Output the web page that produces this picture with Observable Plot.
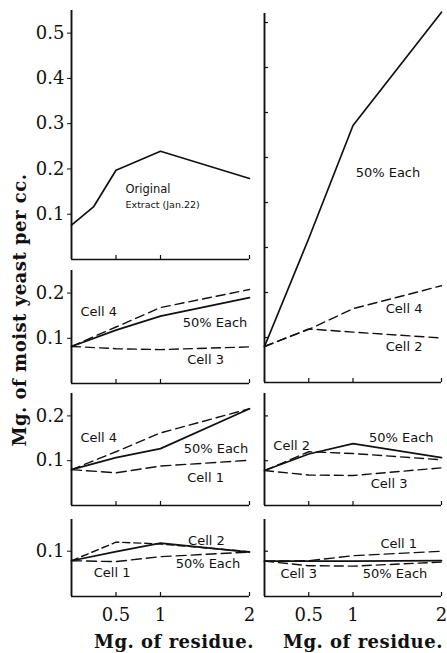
<!DOCTYPE html>
<html><head><meta charset="utf-8">
<script src="https://cdn.jsdelivr.net/npm/d3@7"></script>
<script src="https://cdn.jsdelivr.net/npm/@observablehq/plot@0.6"></script>
<style>
body{margin:0;background:#fff;}
#fig{position:relative;width:447px;height:653px;background:#fff;overflow:hidden;}
#fig svg{position:absolute;overflow:visible;background:transparent;}
.title{position:absolute;font-family:"DejaVu Serif",serif;font-weight:bold;font-size:18px;letter-spacing:0.5px;white-space:nowrap;color:#111;transform:translate(-50%,-50%);}
</style></head><body><div id="fig"></div>
<script>
// x values (mg of residue)
const doses = [0, 0.5, 1, 2];
const dosesOriginal = [0, 0.25, 0.5, 1, 2];
const xTickValues = [0.5, 1, 2];

// Left column
const originalExtract = [0.076, 0.117, 0.197, 0.239, 0.179];
const l2Cell4 = [0.082, 0.125, 0.168, 0.208];
const l2Each = [0.082, 0.118, 0.149, 0.19];
const l2Cell3 = [0.082, 0.077, 0.075, 0.081];
const l3Cell4 = [0.08, 0.12, 0.162, 0.216];
const l3Each = [0.08, 0.107, 0.127, 0.216];
const l3Cell1 = [0.08, 0.073, 0.088, 0.101];
const l4Cell2 = [0.079, 0.12, 0.116, 0.099];
const l4Each = [0.079, 0.099, 0.118, 0.098];
const l4Cell1 = [0.079, 0.077, 0.088, 0.098];

// Right column
const r1Each = [0.08, 0.32, 0.571, 0.823];
const r1Cell4 = [0.08, 0.118, 0.164, 0.215];
const r1Cell2 = [0.08, 0.119, 0.112, 0.099];
const r2Each = [0.078, 0.115, 0.138, 0.107];
const r2Cell2 = [0.078, 0.12, 0.116, 0.102];
const r2Cell3 = [0.078, 0.068, 0.067, 0.084];
const r3Each = [0.078, 0.078, 0.078, 0.079];
const r3Cell1 = [0.078, 0.079, 0.09, 0.10];
const r3Cell3 = [0.078, 0.068, 0.067, 0.076];

// y ticks
const yTicksL1 = [0.1, 0.2, 0.3, 0.4, 0.5];
const yTicks2 = [0.1, 0.2];
const yTicks1 = [0.1];
const yTicksR1 = [0.1, 0.2, 0.3, 0.4, 0.5, 0.6, 0.7, 0.8];

// labels (text, x in mg, y in value)
const l1Text = ["Original", "Extract (Jan.22)"];
const l1X = [0.607, 0.607];
const l1Y = [0.155, 0.121];
const l2Text = ["Cell 4", "50% Each", "Cell 3"];
const l2X = [0.10, 1.25, 1.30];
const l2Y = [0.159, 0.135, 0.053];
const l3Text = ["Cell 4", "50% Each", "Cell 1"];
const l3X = [0.10, 1.26, 1.30];
const l3Y = [0.152, 0.127, 0.0625];
const l4Text = ["Cell 2", "50% Each", "Cell 1"];
const l4X = [1.31, 1.17, 0.25];
const l4Y = [0.124, 0.073, 0.053];
const r1Text = ["50% Each", "Cell 4", "Cell 2"];
const r1X = [1.03, 1.37, 1.37];
const r1Y = [0.467, 0.164, 0.08];
const r2Text = ["Cell 2", "50% Each", "Cell 3"];
const r2X = [0.10, 1.18, 1.20];
const r2Y = [0.134, 0.152, 0.049];
const r3Text = ["Cell 1", "Cell 3", "50% Each"];
const r3X = [1.31, 0.18, 1.11];
const r3Y = [0.117, 0.051, 0.051];

const INK = "#111";
const fig = document.getElementById("fig");

function panel(cfg) {
  const mt = 12, mb = cfg.xAxis ? 40 : 6;
  const frameH = cfg.bottom - cfg.top;
  const unitY = cfg.yMax / frameH;   // data units per pixel
  const unitX = 2 / (cfg.width - cfg.mL - cfg.mR);
  const marks = [
    Plot.ruleX([0], {stroke: INK, strokeWidth: 1.9}),
    Plot.ruleY([0], {stroke: INK, strokeWidth: 1.7}),
    Plot.ruleX(xTickValues, {y1: 0, y2: 4 * unitY, stroke: INK, strokeWidth: 1.2})
  ];
  if (cfg.side === "left") {
    marks.push(Plot.axisY(cfg.yTicks, {anchor: "left", tickSize: 4, tickPadding: 3,
      tickFormat: d3.format(".1f"), fontSize: 18, fontFamily: "DejaVu Serif", color: INK, label: null}));
  } else {
    marks.push(Plot.ruleY(cfg.yTicks, {x1: 0, x2: 4 * unitX, stroke: INK, strokeWidth: 1.2}));
  }
  if (cfg.xAxis) {
    marks.push(Plot.axisX(xTickValues, {anchor: "bottom", tickSize: 0, tickPadding: 12,
      tickFormat: d => String(d), fontSize: 18, fontFamily: "DejaVu Serif", color: INK, label: null}));
  }
  for (const s of cfg.series) {
    marks.push(Plot.line(s.values, {x: s.xs || doses, y: d => d, stroke: INK,
      strokeWidth: s.dash ? 1.4 : 1.7, strokeDasharray: s.dash || null}));
  }
  marks.push(Plot.text(cfg.labelText, {x: cfg.labelX, y: cfg.labelY, text: d => d,
    textAnchor: "start", fontSize: cfg.labelSizes || 13, fontFamily: "DejaVu Sans", fill: INK}));
  const svg = Plot.plot({
    width: cfg.width, height: frameH + mt + mb,
    marginLeft: cfg.mL, marginRight: cfg.mR, marginTop: mt, marginBottom: mb,
    x: {domain: [0, 2], axis: null},
    y: {domain: [0, cfg.yMax], axis: null},
    style: {background: "transparent", overflow: "visible"},
    marks
  });
  svg.style.left = cfg.left + "px";
  svg.style.top = (cfg.top - mt) + "px";
  fig.appendChild(svg);
}

const L = {left: 0, width: 257, mL: 71, mR: 8, side: "left"};
const R = {left: 257, width: 190, mL: 7, mR: 6, side: "right"};

panel({...L, top: 10, bottom: 259, yMax: 0.55, yTicks: yTicksL1,
  series: [{values: originalExtract, xs: dosesOriginal}],
  labelText: l1Text, labelX: l1X, labelY: l1Y, labelSizes: [11.5, 9.5]});
panel({...L, top: 270, bottom: 383, yMax: 0.25, yTicks: yTicks2,
  series: [{values: l2Cell4, dash: "9,5"}, {values: l2Each}, {values: l2Cell3, dash: "9,5"}],
  labelText: l2Text, labelX: l2X, labelY: l2Y});
panel({...L, top: 393, bottom: 505, yMax: 0.25, yTicks: yTicks2,
  series: [{values: l3Cell4, dash: "9,5"}, {values: l3Each}, {values: l3Cell1, dash: "10,5"}],
  labelText: l3Text, labelX: l3X, labelY: l3Y});
panel({...L, top: 519, bottom: 596, yMax: 0.17, yTicks: yTicks1, xAxis: true,
  series: [{values: l4Cell2, dash: "7,4"}, {values: l4Each}, {values: l4Cell1, dash: "10,5"}],
  labelText: l4Text, labelX: l4X, labelY: l4Y});

panel({...R, top: 13, bottom: 382, yMax: 0.82, yTicks: yTicksR1,
  series: [{values: r1Each}, {values: r1Cell4, dash: "9,5"}, {values: r1Cell2, dash: "9,5"}],
  labelText: r1Text, labelX: r1X, labelY: r1Y});
panel({...R, top: 393, bottom: 505, yMax: 0.25, yTicks: yTicks2,
  series: [{values: r2Each}, {values: r2Cell2, dash: "9,5"}, {values: r2Cell3, dash: "9,5"}],
  labelText: r2Text, labelX: r2X, labelY: r2Y});
panel({...R, top: 519, bottom: 596, yMax: 0.17, yTicks: yTicks1, xAxis: true,
  series: [{values: r3Each}, {values: r3Cell1, dash: "10,5"}, {values: r3Cell3, dash: "9,5"}],
  labelText: r3Text, labelX: r3X, labelY: r3Y});

function title(text, x, y, rotate) {
  const d = document.createElement("div");
  d.className = "title";
  d.textContent = text;
  d.style.left = x + "px";
  d.style.top = y + "px";
  if (rotate) d.style.transform = "translate(-50%,-50%) rotate(-90deg)";
  fig.appendChild(d);
}
title("Mg. of moist yeast per cc.", 19, 310, true);
title("Mg. of residue.", 174, 641);
title("Mg. of residue.", 363, 641);
</script></body></html>
